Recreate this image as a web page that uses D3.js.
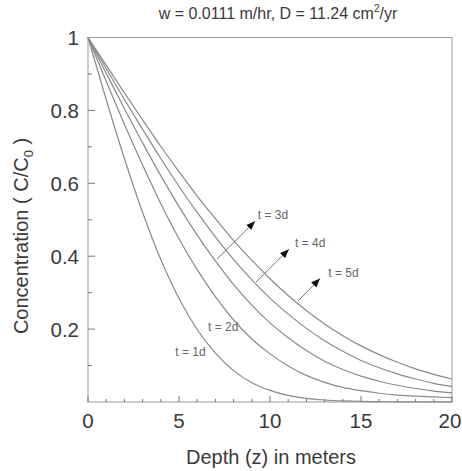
<!DOCTYPE html>
<html><head><meta charset="utf-8">
<script src="https://cdn.jsdelivr.net/npm/d3@7"></script>
<style>body{margin:0;background:#fff}svg{display:block}</style>
</head><body>
<svg id="chart" width="462" height="471"></svg>
<script>
// ---- data ----
const depth   = [0,1,2,3,4,5,6,7,8,9,10,11,12,13,14,15,16,17,18,19,20];
const conc_t1 = [1,0.830,0.668,0.520,0.391,0.284,0.199,0.134,0.086,0.053,0.032,0.018,0.010,0.0055,0.003,0.0015,0.001,0.0005,0.0003,0.0002,0.0001];
const conc_t2 = [1,0.880,0.762,0.650,0.544,0.448,0.363,0.289,0.225,0.173,0.132,0.099,0.073,0.054,0.040,0.031,0.024,0.019,0.016,0.014,0.012];
const conc_t3 = [1,0.902,0.805,0.711,0.621,0.536,0.458,0.387,0.322,0.266,0.217,0.176,0.141,0.112,0.089,0.071,0.057,0.046,0.037,0.030,0.025];
const conc_t4 = [1,0.915,0.830,0.748,0.668,0.592,0.520,0.453,0.391,0.335,0.285,0.241,0.202,0.168,0.139,0.114,0.094,0.077,0.063,0.051,0.042];
const conc_t5 = [1,0.924,0.848,0.774,0.701,0.632,0.565,0.503,0.443,0.389,0.338,0.292,0.251,0.214,0.182,0.154,0.130,0.109,0.091,0.076,0.063];
const seriesNames = ["t = 1d","t = 2d","t = 3d","t = 4d","t = 5d"];
const xTickValues = [0,5,10,15,20];
const yTickValues = [0.2,0.4,0.6,0.8,1];
const titleMain = "w = 0.0111 m/hr, D = 11.24 cm";
const titleSup = "2";
const titleEnd = "/yr";
const xLabel = "Depth (z) in meters";

// ---- layout ----
const plot = {left: 88, right: 452, top: 37.5, bottom: 402};
const svg = d3.select("#chart");
const x = d3.scaleLinear().domain([0,20]).range([plot.left, plot.right]);
const y = d3.scaleLinear().domain([0,1]).range([plot.bottom, plot.top]);
const textColor = "#3a3a3a";
const lineColor = "#8a8a8a";
const font = "'Liberation Sans', Arial, Helvetica, sans-serif";

// frame
svg.append("rect").attr("x", plot.left).attr("y", plot.top)
  .attr("width", plot.right - plot.left).attr("height", plot.bottom - plot.top)
  .attr("fill", "none").attr("stroke", "#9a9a9a").attr("stroke-width", 1);

// x ticks (inward)
const xMinor = d3.range(0, 21, 1);
svg.append("g").selectAll("line").data(xMinor).join("line")
  .attr("x1", d => x(d)).attr("x2", d => x(d))
  .attr("y1", plot.bottom).attr("y2", d => plot.bottom - (d % 5 === 0 ? 6 : 3))
  .attr("stroke", "#777").attr("stroke-width", 1);
svg.append("g").selectAll("text").data(xTickValues).join("text")
  .attr("x", d => x(d)).attr("dx", (d, i) => i === xTickValues.length - 1 ? -2 : 0)
  .attr("y", 428).attr("text-anchor", "middle")
  .attr("font-family", font).attr("font-size", 20.5).attr("fill", textColor)
  .text(d => d);

// y ticks (inward)
const yMinor = d3.range(1, 10).map(d => d / 10);
svg.append("g").selectAll("line").data(yMinor).join("line")
  .attr("y1", d => y(d)).attr("y2", d => y(d))
  .attr("x1", plot.left).attr("x2", (d, i) => plot.left + ((i % 2) === 1 ? 7 : 4))
  .attr("stroke", "#777").attr("stroke-width", 1);
svg.append("g").selectAll("text").data(yTickValues).join("text")
  .attr("x", 79).attr("y", d => y(d) + 7.5).attr("text-anchor", "end")
  .attr("font-family", font).attr("font-size", 20.5).attr("fill", textColor)
  .text(d => d);

// curves
const seriesValues = [conc_t1, conc_t2, conc_t3, conc_t4, conc_t5];
const line = d3.line().x(d => x(d[0])).y(d => y(d[1])).curve(d3.curveMonotoneX);
svg.append("g").selectAll("path").data(seriesValues).join("path")
  .attr("d", vals => line(depth.map((z, i) => [z, vals[i]])))
  .attr("fill", "none").attr("stroke", lineColor).attr("stroke-width", 1.2);

// curve labels (positions in data units)
const labelPos = [
  {name: seriesNames[0], z: 4.8, c: 0.125},
  {name: seriesNames[1], z: 6.6, c: 0.195},
  {name: seriesNames[2], z: 9.33, c: 0.502},
  {name: seriesNames[3], z: 11.38, c: 0.425},
  {name: seriesNames[4], z: 13.2, c: 0.343}
];
svg.append("g").selectAll("text").data(labelPos).join("text")
  .attr("x", d => x(d.z)).attr("y", d => y(d.c))
  .attr("font-family", font).attr("font-size", 12).attr("fill", "#666")
  .text(d => d.name);

// arrows (data units)
const arrowPos = [
  {z0: 7.09, c0: 0.392, z1: 9.18, c1: 0.496},
  {z0: 9.23, c0: 0.329, z1: 11.04, c1: 0.419},
  {z0: 11.54, c0: 0.277, z1: 12.75, c1: 0.339}
];
const defs = svg.append("defs");
defs.append("marker").attr("id", "ah").attr("viewBox", "0 0 10 10")
  .attr("refX", 10).attr("refY", 5).attr("markerWidth", 9).attr("markerHeight", 9)
  .attr("markerUnits", "userSpaceOnUse").attr("orient", "auto")
  .append("path").attr("d", "M0,1 L10,5 L0,9 Z").attr("fill", "#111");
svg.append("g").selectAll("line").data(arrowPos).join("line")
  .attr("x1", d => x(d.z0)).attr("y1", d => y(d.c0))
  .attr("x2", d => x(d.z1)).attr("y2", d => y(d.c1))
  .attr("stroke", "#777").attr("stroke-width", 1).attr("marker-end", "url(#ah)");

// title
const t = svg.append("text").attr("x", 278).attr("y", 19).attr("text-anchor", "middle")
  .attr("font-family", font).attr("font-size", 16).attr("fill", textColor);
t.append("tspan").text(titleMain);
t.append("tspan").attr("font-size", 10).attr("dy", -7).text(titleSup);
t.append("tspan").attr("dy", 7).text(titleEnd);

// x label
svg.append("text").attr("x", 271).attr("y", 464).attr("text-anchor", "middle")
  .attr("font-family", font).attr("font-size", 20).attr("fill", textColor).text(xLabel);

// y label
const yl = svg.append("text").attr("transform", "translate(28,236) rotate(-90)")
  .attr("text-anchor", "middle").attr("font-family", font).attr("font-size", 20).attr("fill", textColor);
yl.append("tspan").text("Concentration ( C/C");
yl.append("tspan").attr("font-size", 13).attr("dy", 5).text("0");
yl.append("tspan").attr("dy", -5).text(" )");
</script>
</body></html>
